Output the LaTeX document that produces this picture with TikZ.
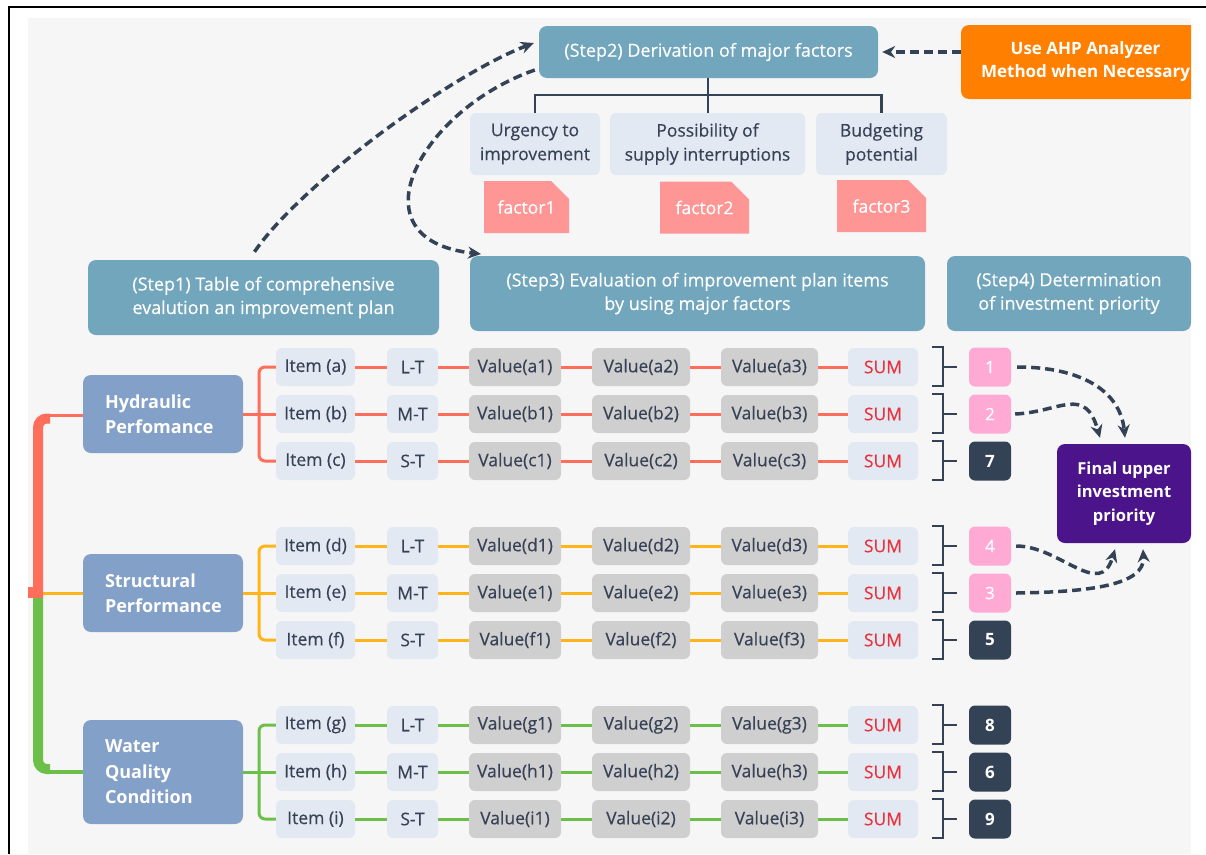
\documentclass[tikz,border=0pt]{standalone}
\usepackage{fontspec}
\setmainfont{Open Sans}
\newfontfamily\medium{Open Sans}[FakeBold=0.4]
\usetikzlibrary{arrows.meta,calc,shapes.misc}

\definecolor{panel}{RGB}{246,246,246}
\definecolor{stepc}{RGB}{113,166,189}
\definecolor{lite}{RGB}{226,233,242}
\definecolor{valg}{RGB}{207,207,207}
\definecolor{catc}{RGB}{131,160,200}
\definecolor{ink}{RGB}{56,66,86}
\definecolor{navy}{RGB}{52,66,86}
\definecolor{sumred}{RGB}{232,50,60}
\definecolor{lred}{RGB}{255,110,90}
\definecolor{lorange}{RGB}{255,180,25}
\definecolor{lgreen}{RGB}{108,192,74}
\definecolor{tagpink}{RGB}{255,150,150}
\definecolor{rankpink}{RGB}{255,170,213}
\definecolor{finalc}{RGB}{75,20,138}
\definecolor{ahp}{RGB}{255,128,0}

\tikzset{
  box/.style={rounded corners=6pt, inner sep=0pt, align=center},
  stepbox/.style={box, rounded corners=8pt, fill=stepc, text=white,
    font=\medium\fontsize{18}{23.5}\selectfont},
  note/.style={box, fill=lite, text=ink, minimum height=62pt,
    font=\medium\fontsize{17.5}{24}\selectfont},
  tag/.style={chamfered rectangle, chamfered rectangle corners=north east,
    chamfered rectangle xsep=11pt, chamfered rectangle ysep=11pt,
    inner sep=0pt, fill=tagpink, text=white, minimum height=52pt,
    font=\medium\fontsize{17.5}{19}\selectfont},
  cell/.style={box, fill=lite, text=ink, minimum height=38pt,
    font=\medium\fontsize{17.5}{19}\selectfont},
  valcell/.style={cell, fill=valg},
  sumcell/.style={cell, text=sumred},
  cat/.style={box, rounded corners=8pt, fill=catc, text=white, align=left,
    text width=116pt, inner xsep=22pt,
    font=\bfseries\fontsize{18}{25.5}\selectfont},
  rank/.style={box, minimum width=42pt, minimum height=39pt, text=white},
  hi/.style={rank, fill=rankpink, font=\medium\fontsize{17}{20}\selectfont},
  lo/.style={rank, fill=navy, font=\bfseries\fontsize{17}{20}\selectfont},
  flow/.style={navy, line width=3.5pt, dash pattern=on 9pt off 5pt,
    -{Stealth[length=13pt,width=12pt]}},
  tree/.style={navy, line width=2.5pt},
  brk/.style={navy, line width=2.5pt},
  link/.style={line width=3pt},
}

\begin{document}
\begin{tikzpicture}[x=1pt,y=-1pt]
  % page, frame and panel
  \fill[white] (0,0) rectangle (1206,854);
  \useasboundingbox (0,0) rectangle (1206,854);
  \draw[black, line width=1.2pt] (9,854) -- (9,7) -- (1206,7);
  \fill[panel] (28,18) rectangle (1191,854);

  % step headers
  \node[stepbox, minimum width=339pt, minimum height=52pt] (s2) at (708.5,52)
    {(Step2) Derivation of major factors};
  \node[stepbox, minimum width=351pt, minimum height=75pt] (s1) at (263.5,297.5)
    {(Step1) Table of comprehensive\\evalution an improvement plan};
  \node[stepbox, minimum width=455pt, minimum height=75pt] (s3) at (697.5,293.5)
    {(Step3) Evaluation of improvement plan items\\by using major factors};
  \node[stepbox, minimum width=244pt, minimum height=75pt] (s4) at (1069,293.5)
    {(Step4) Determination\\of investment priority};

  % AHP note, cut off by the panel edge
  \begin{scope}
    \clip (28,18) rectangle (1191,854);
    \node[box, rounded corners=8pt, fill=ahp, text=white, minimum width=249pt,
      minimum height=74pt, font=\bfseries\fontsize{17}{23}\selectfont] (ahp)
      at (1085.5,62) {Use AHP Analyzer\\Method when Necessary};
  \end{scope}
  \draw[flow] (ahp.west |- s2.east) -- ([xshift=4pt]s2.east);

  % major factors
  \node[note, minimum width=130pt] (nu) at (535,144) {Urgency to\\improvement};
  \node[note, minimum width=195pt] (np) at (707.5,144) {Possibility of\\supply interruptions};
  \node[note, minimum width=131pt] (nb) at (881.5,144) {Budgeting\\potential};
  \node[tag, minimum width=85pt] (f1) at (526.5,207) {factor1};
  \node[tag, minimum width=89pt] (f2) at (704.5,207.5) {factor2};
  \node[tag, minimum width=89pt] (f3) at (881.5,206) {factor3};

  \coordinate (tj) at (708,95);
  \draw[tree] (s2.south -| tj) -- (np.north -| tj);
  \draw[tree] (nu.north) |- (nb.north |- tj) -- (nb.north);

  % flow between steps
  \draw[flow] ([shift={(-9,-8)}]s1.north)
    .. controls (300,185) and (450,75) .. ([shift={(-5,-9)}]s2.west);
  \draw[flow] ([shift={(-4,18)}]s2.west)
    .. controls (420,110) and (350,240) .. (481,254);

  % categories
  \node[cat, minimum height=78pt] (hyd) at (163,414) {Hydraulic\\Perfomance};
  \node[cat, minimum height=78pt] (str) at (163,593) {Structural\\Performance};
  \node[cat, minimum height=104pt] (wat) at (163,772) {Water\\Quality\\Condition};

  % evaluation rows
  \foreach \rw/\y/\term/\lc/\rk/\rs in {
      a/367/L-T/lred/1/hi, b/414/M-T/lred/2/hi, c/461/S-T/lred/7/lo,
      d/546/L-T/lorange/4/hi, e/593/M-T/lorange/3/hi, f/640/S-T/lorange/5/lo,
      g/725/L-T/lgreen/8/lo, h/772/M-T/lgreen/6/lo, i/819/S-T/lgreen/9/lo} {
    \node[cell, minimum width=79pt] (it-\rw) at (315.5,\y) {Item (\rw)};
    \node[cell, minimum width=51pt] (tm-\rw) at (412.5,\y) {\term};
    \node[valcell, minimum width=92pt] (va-\rw) at (515,\y) {Value(\rw1)};
    \node[valcell, minimum width=98pt] (vb-\rw) at (641,\y) {Value(\rw2)};
    \node[valcell, minimum width=97pt] (vc-\rw) at (769.5,\y) {Value(\rw3)};
    \node[sumcell, minimum width=70pt] (sm-\rw) at (883,\y) {SUM};
    \node[\rs] (rk-\rw) at (990,\y) {\rk};
    \draw[\lc, link] (it-\rw) -- (tm-\rw) -- (va-\rw) -- (vb-\rw) -- (vc-\rw) -- (sm-\rw);
    \coordinate (bk-\rw) at (943,\y);
    \draw[brk] (932,\y-20) -| (943,\y+19) -- (932,\y+19);
    \draw[brk] (bk-\rw) -- ++(14,0);
  }

  % branches from categories to items
  \coordinate (jh) at (259,414);
  \coordinate (js) at (259,593);
  \coordinate (jw) at (259,772);
  \draw[lred, link] (hyd) -- (it-b);
  \draw[lred, link, rounded corners=6pt] (it-a.west) -| (jh) |- (it-c.west);
  \draw[lorange, link] (str) -- (it-e);
  \draw[lorange, link, rounded corners=6pt] (it-d.west) -| (js) |- (it-f.west);
  \draw[lgreen, link] (wat) -- (it-h);
  \draw[lgreen, link, rounded corners=6pt] (it-g.west) -| (jw) |- (it-i.west);

  % trunk joining the categories
  \draw[lred, line width=10pt, rounded corners=9pt] (38,598) |- (50,418.5);
  \draw[lred, link] (46,415) -- (hyd.west |- 0,415);
  \fill[lred] (28,587) rectangle (43,598);
  \draw[lorange, link] (str.west) -- (43,593);
  \draw[lgreen, line width=10pt, rounded corners=9pt] (38,598) |- (50,769);
  \draw[lgreen, line width=4pt] (46,772) -- (wat.west);

  % final priority
  \node[box, rounded corners=8pt, fill=finalc, text=white, minimum width=134pt,
    minimum height=99pt, font=\bfseries\fontsize{16.5}{23.5}\selectfont] (fin)
    at (1124,493.5) {Final upper\\investment\\priority};
  \draw[flow] ([xshift=6pt]rk-a.east)
    .. controls (1080,367) and (1120,390) .. ([shift={(1,-6)}]fin.north);
  \draw[flow] ([xshift=4pt]rk-b.east)
    .. controls (1060,412) and (1085,385) .. ([shift={(-24,-6)}]fin.north);
  \draw[flow] ([xshift=5pt]rk-d.east)
    .. controls (1060,546) and (1100,600) .. ([shift={(-9,6)}]fin.south);
  \draw[flow] ([xshift=5pt]rk-e.east)
    .. controls (1090,592) and (1145,585) .. ([shift={(19,6)}]fin.south);
\end{tikzpicture}
\end{document}
